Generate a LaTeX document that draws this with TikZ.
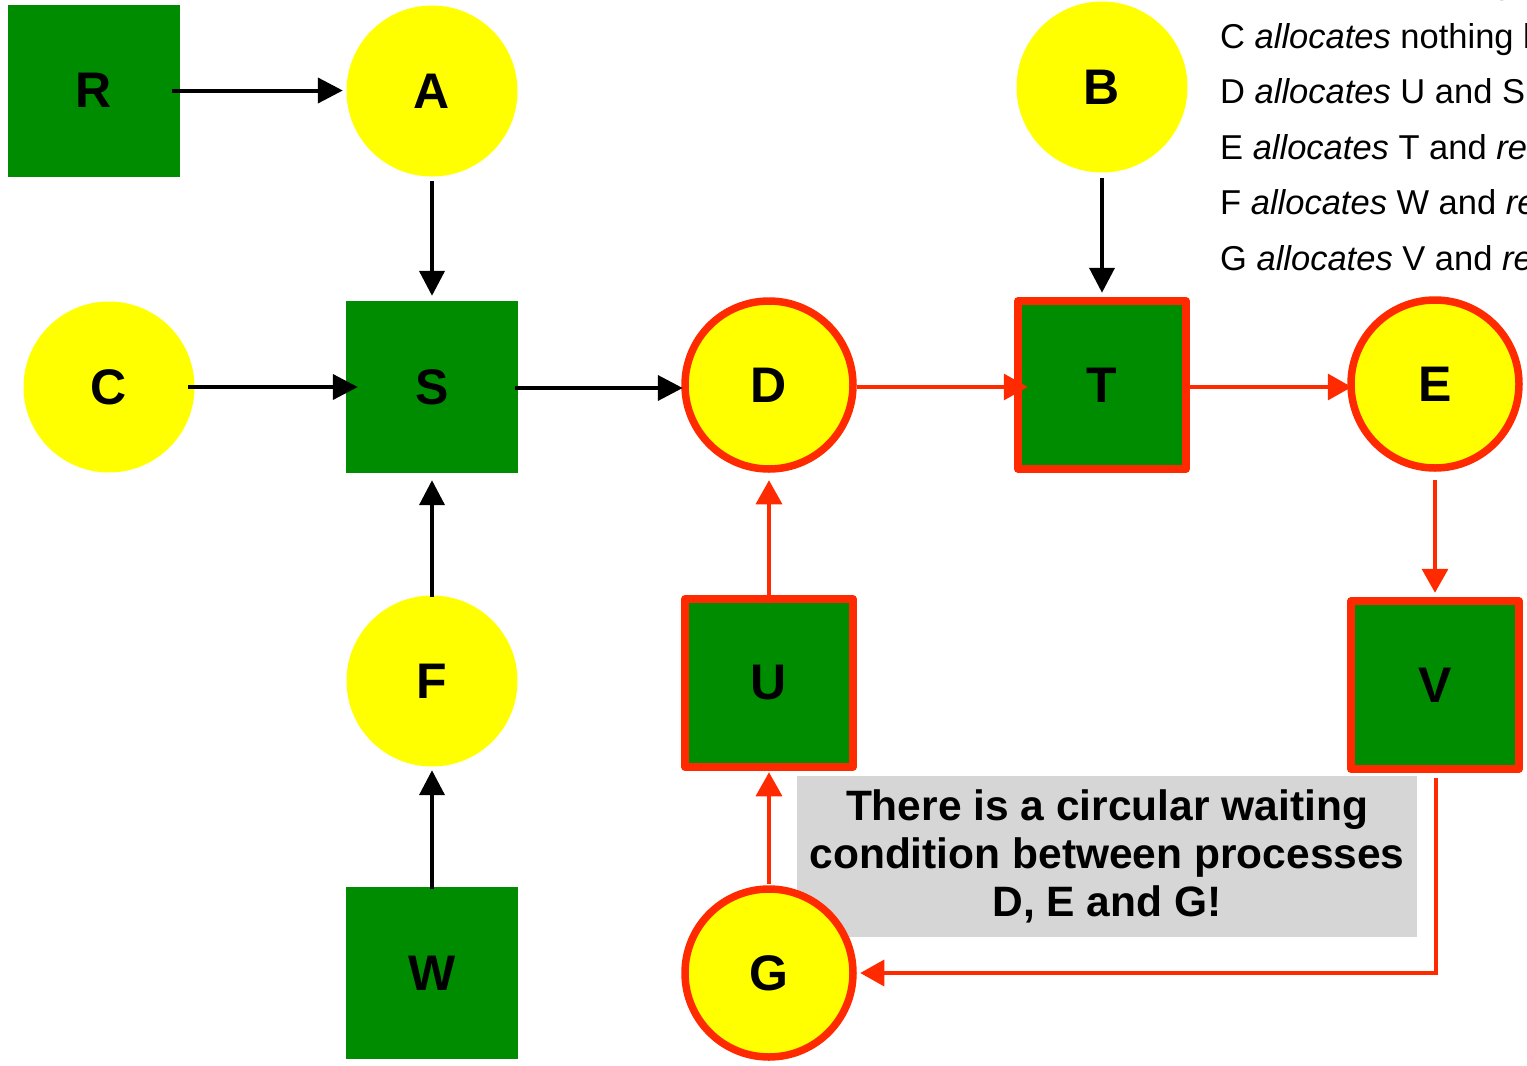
\documentclass[tikz,border=0pt]{standalone}
\usepackage{fontspec}
\setmainfont{Liberation Sans}
\usetikzlibrary{arrows.meta}
\definecolor{resgreen}{HTML}{008C00}
\definecolor{procyellow}{HTML}{FFFF00}
\definecolor{cyclered}{HTML}{FF2A00}
\definecolor{notegray}{HTML}{D6D6D6}

\begin{document}
\begin{tikzpicture}[x=1pt,y=-1pt,
  labelfont/.style={font=\fontsize{50}{60}\selectfont\bfseries},
  resource/.style={rectangle, fill=resgreen, minimum size=172pt, inner sep=0pt, labelfont},
  process/.style={circle, fill=procyellow, minimum size=171pt, inner sep=0pt, labelfont},
  incycle/.style={draw=cyclered, line width=7.5pt, minimum size=168pt, line join=round},
  waits/.style={line width=4pt, -{Triangle[length=25pt,width=25pt]}},
  cycarrow/.style={draw=cyclered, line width=3.5pt, -{Triangle[length=24pt,width=26pt]}},
  notetext/.style={anchor=base west, inner sep=0pt, font=\fontsize{34.5}{40}\selectfont},
]
\useasboundingbox (0,0) rectangle (1527,1066);
\clip (0,0) rectangle (1527,1066);

% explanation lines at the top right
\node[notetext] (noteB) at (1220,-7)  {B \textit{allocates} nothing but \textit{requests} T};
\node[notetext] (noteC) at (1220,48)  {C \textit{allocates} nothing but \textit{requests} S};
\node[notetext] (noteD) at (1220,103) {D \textit{allocates} U and S and \textit{requests} T};
\node[notetext] (noteE) at (1220,159) {E \textit{allocates} T and \textit{requests} V};
\node[notetext] (noteF) at (1220,214) {F \textit{allocates} W and \textit{requests} S};
\node[notetext] (noteG) at (1220,270) {G \textit{allocates} V and \textit{requests} U};

% remark box
\node[fill=notegray, minimum width=620pt, minimum height=161pt, inner sep=0pt,
      align=center, font=\fontsize{42.5}{48}\selectfont\bfseries] (remark) at (1107,856.5)
  {There is a circular waiting\\condition between processes\\D, E and G!};

% resources
\node[resource] (R) at (94,90.5) {R};
\node[resource] (S) at (432,387) {S};
\node[resource, incycle] (T) at (1102,385) {T};
\node[resource, incycle] (U) at (769,683) {U};
\node[resource, incycle] (V) at (1435,685) {V};
\node[resource] (W) at (432,973) {W};

% processes
\node[process] (A) at (432,91) {A};
\node[process] (B) at (1102,87) {B};
\node[process] (C) at (109,387) {C};
\node[process, incycle] (D) at (769,385) {D};
\node[process, incycle] (E) at (1435,384) {E};
\node[process] (F) at (432,681) {F};
\node[process, incycle] (G) at (769,973) {G};

% ordinary edges
\draw[waits, shorten <=-8pt, shorten >=3.5pt] (R.east) -- (R.east -| A.west);
\draw[waits, shorten <=4.5pt, shorten >=5pt] (A.south) -- (S.north);
\draw[waits, shorten <=-6.5pt, shorten >=-12pt] (C.east) -- (C.east -| S.west);
\draw[waits, shorten <=-3pt, shorten >=-1.5pt] ([yshift=-1pt]S.east) -- ([yshift=-1pt]S.east -| D.west);
\draw[waits, shorten <=5.5pt, shorten >=4.5pt] (B.south) -- (T.north);
\draw[waits, shorten <=-1.5pt, shorten >=7pt] (F.north) -- (S.south);
\draw[waits, shorten <=-2pt, shorten >=3.5pt] (W.north) -- (F.south);

% the cycle D -> T -> E -> V -> G -> U -> D
\draw[cycarrow, shorten >=-13.5pt] ([yshift=-2pt]D.east) -- ([yshift=-2pt]D.east -| T.west);
\draw[cycarrow, shorten >=-4.5pt] ([yshift=-2pt]T.east) -- ([yshift=-2pt]T.east -| E.west);
\draw[cycarrow, shorten <=8.5pt, shorten >=4.5pt] (E.south) -- (V.north);
\draw[cycarrow, shorten <=5.5pt, shorten >=3.5pt] ([xshift=1pt]V.south) |- (G.east);
\draw[cycarrow, shorten <=1.5pt, shorten >=1.5pt] (G.north) -- (U.south);
\draw[cycarrow, shorten >=7.5pt] (U.north) -- (D.south);
\end{tikzpicture}
\end{document}
